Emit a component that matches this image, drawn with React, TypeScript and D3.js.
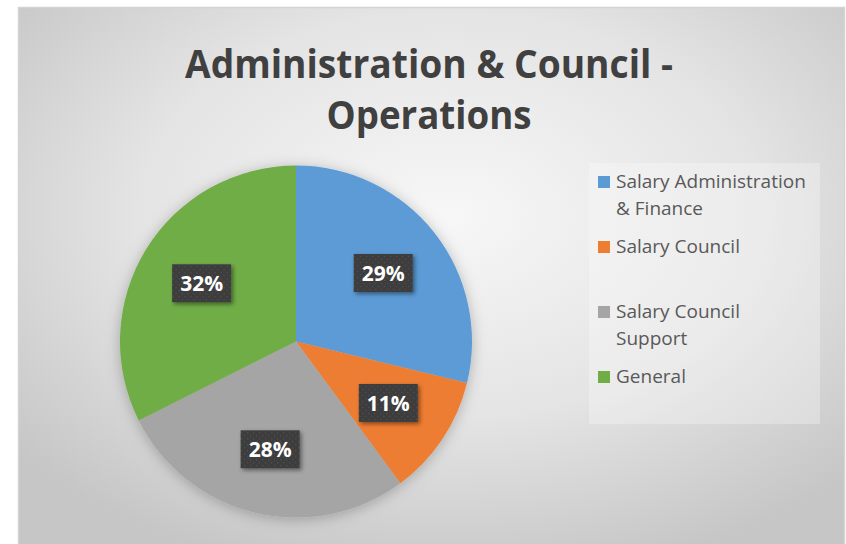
import React, { useEffect, useRef } from "react";
import * as d3 from "d3";

const categories = [
  "Salary Administration & Finance",
  "Salary Council",
  "Salary Council Support",
  "General",
];
const legendLines = [
  ["Salary Administration", "& Finance"],
  ["Salary Council"],
  ["Salary Council", "Support"],
  ["General"],
];
const values = [28.8, 11.1, 27.7, 32.4];
const colors = ["#5B9BD5", "#ED7D31", "#A5A5A5", "#70AD47"];
const titleLines = ["Administration & Council -", "Operations"];

const W = 846;
const H = 544;

export default function App() {
  const ref = useRef<SVGSVGElement>(null);

  useEffect(() => {
    const svg = d3.select(ref.current);
    svg.selectAll("*").remove();
    const defs = svg.append("defs");

    const bg = defs
      .append("radialGradient")
      .attr("id", "bg")
      .attr("cx", "52%")
      .attr("cy", "38%")
      .attr("r", "68%");
    bg.append("stop").attr("offset", "0%").attr("stop-color", "#f7f7f7");
    bg.append("stop").attr("offset", "55%").attr("stop-color", "#e4e4e4");
    bg.append("stop").attr("offset", "100%").attr("stop-color", "#c6c6c6");

    const sh = defs
      .append("filter")
      .attr("id", "pieShadow")
      .attr("x", "-20%")
      .attr("y", "-20%")
      .attr("width", "140%")
      .attr("height", "140%");
    sh.append("feDropShadow")
      .attr("dx", 0)
      .attr("dy", 2)
      .attr("stdDeviation", 7)
      .attr("flood-color", "#000")
      .attr("flood-opacity", 0.25);

    const lsh = defs
      .append("filter")
      .attr("id", "lblShadow")
      .attr("x", "-30%")
      .attr("y", "-30%")
      .attr("width", "160%")
      .attr("height", "160%");
    lsh.append("feDropShadow")
      .attr("dx", 2)
      .attr("dy", 2)
      .attr("stdDeviation", 2)
      .attr("flood-color", "#000")
      .attr("flood-opacity", 0.45);

    const pat = defs
      .append("pattern")
      .attr("id", "dots")
      .attr("width", 6)
      .attr("height", 6)
      .attr("patternUnits", "userSpaceOnUse");
    pat.append("rect").attr("width", 6).attr("height", 6).attr("fill", "#3d3d3d");
    pat.append("circle").attr("cx", 1.5).attr("cy", 1.5).attr("r", 0.7).attr("fill", "#525252");
    pat.append("circle").attr("cx", 4.5).attr("cy", 4.5).attr("r", 0.7).attr("fill", "#525252");

    // background
    svg.append("rect").attr("width", W).attr("height", H).attr("fill", "#fff");
    svg
      .append("rect")
      .attr("x", 18.5)
      .attr("y", 7.5)
      .attr("width", 826)
      .attr("height", 545)
      .attr("fill", "url(#bg)")
      .attr("stroke", "#d4d4d4")
      .attr("stroke-width", 1.5);

    // title
    const titleWidths = [488, 205];
    const title = svg
      .append("text")
      .attr("text-anchor", "middle")
      .attr("font-family", "'Open Sans', sans-serif")
      .attr("font-weight", 700)
      .attr("font-size", 40)
      .attr("fill", "#404040");
    titleLines.forEach((t, i) => {
      title
        .append("tspan")
        .attr("x", 429)
        .attr("y", 78 + i * 51)
        .attr("textLength", titleWidths[i])
        .attr("lengthAdjust", "spacingAndGlyphs")
        .text(t);
    });

    // pie
    const cx = 296;
    const cy = 341.5;
    const r = 176;
    const pie = d3.pie<number>().sort(null).value((d) => d);
    const arcs = pie(values);
    const arc = d3.arc<d3.PieArcDatum<number>>().innerRadius(0).outerRadius(r);
    const labelArc = d3
      .arc<d3.PieArcDatum<number>>()
      .innerRadius(r * 0.63)
      .outerRadius(r * 0.63);
    const g = svg.append("g").attr("transform", `translate(${cx},${cy})`);
    g.append("g")
      .attr("filter", "url(#pieShadow)")
      .selectAll("path")
      .data(arcs)
      .join("path")
      .attr("d", arc)
      .attr("fill", (_, i) => colors[i]);

    const total = d3.sum(values);
    const lbl = g
      .selectAll("g.lbl")
      .data(arcs)
      .join("g")
      .attr("class", "lbl")
      .attr("transform", (d) => `translate(${labelArc.centroid(d)})`);
    lbl
      .append("rect")
      .attr("x", -29.5)
      .attr("y", -19)
      .attr("width", 59)
      .attr("height", 38)
      .attr("fill", "url(#dots)")
      .attr("filter", "url(#lblShadow)");
    lbl
      .append("text")
      .attr("text-anchor", "middle")
      .attr("dy", "0.36em")
      .attr("font-family", "'Open Sans', sans-serif")
      .attr("font-weight", 700)
      .attr("font-size", 21)
      .attr("fill", "#fff")
      .text((d) => `${Math.round((d.data / total) * 100)}%`);

    // legend
    svg
      .append("rect")
      .attr("x", 589)
      .attr("y", 163)
      .attr("width", 231)
      .attr("height", 261)
      .attr("fill", "#fff")
      .attr("fill-opacity", 0.28);
    const baselines = [188, 253, 318, 383];
    const leg = svg
      .selectAll("g.leg")
      .data(categories)
      .join("g")
      .attr("class", "leg")
      .attr("transform", (_, i) => `translate(598,${baselines[i]})`);
    leg
      .append("rect")
      .attr("x", 0)
      .attr("y", -12)
      .attr("width", 12)
      .attr("height", 12)
      .attr("fill", (_, i) => colors[i]);
    leg.each(function (_, i) {
      const t = d3
        .select(this)
        .append("text")
        .attr("font-family", "'Open Sans', sans-serif")
        .attr("font-size", 19)
        .attr("fill", "#595959");
      legendLines[i].forEach((line, j) => {
        t.append("tspan").attr("x", 18).attr("y", j * 27).text(line);
      });
    });
  }, []);

  return (
    <svg
      ref={ref}
      width={W}
      height={H}
      style={{ position: "absolute", left: 0, top: 0, display: "block" }}
    />
  );
}
